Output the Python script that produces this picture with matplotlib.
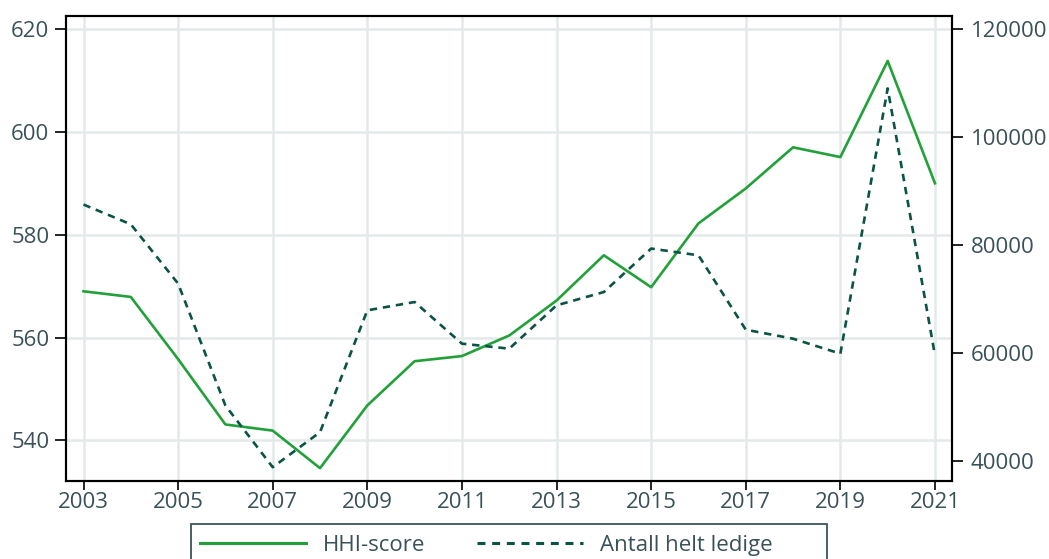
import matplotlib
matplotlib.use("Agg")
import matplotlib.pyplot as plt
from matplotlib.lines import Line2D
from matplotlib.patches import Rectangle

plt.rcParams['font.family'] = ['Open Sans', 'DejaVu Sans']

years = list(range(2003, 2022))
hhi_score = [569.0, 567.9, 555.8, 543.1, 541.9, 534.6, 546.8, 555.4, 556.4, 560.4,
             567.2, 576.0, 569.8, 582.2, 589.0, 597.0, 595.1, 613.8, 590.0]
helt_ledige = [87460, 83800, 72800, 50200, 38760, 45260, 67850, 69390, 61670, 60740,
               68770, 71240, 79300, 78050, 64260, 62590, 59810, 108990, 59490]
x_ticks = list(range(2003, 2022, 2))
left_ticks = [540, 560, 580, 600, 620]
right_ticks = [40000, 60000, 80000, 100000, 120000]
labels = ["HHI-score", "Antall helt ledige"]

green = '#22a03a'
dark = '#0b5345'
txt = '#3a5157'
fs = 16

W, H = 1049, 559
fig = plt.figure(figsize=(W/100, H/100), dpi=100)
ax = fig.add_axes([66/W, 1-480.5/H, (952-66)/W, (480.5-15.7)/H])
ax2 = ax.twinx()

ax.plot(years, hhi_score, color=green, lw=1.9, zorder=3)
ax2.plot(years, helt_ledige, color=dark, lw=1.9, linestyle=(0, (2.8, 2.2)), zorder=3)

ax.set_xlim(2002.63, 2021.36)
ax.set_ylim(532.2, 622.6)
ax2.set_ylim(36300, 122470)

ax.set_xticks(x_ticks)
ax.set_yticks(left_ticks)
ax2.set_yticks(right_ticks)

ax.grid(True, color='#e4e9e9', lw=1.8, zorder=0)
ax.set_axisbelow(True)

for a in (ax, ax2):
    for s in a.spines.values():
        s.set_linewidth(1.5)
        s.set_color('black')
    a.tick_params(colors='black', labelcolor=txt, labelsize=fs, width=1.2)

ax.tick_params(axis='y', length=8, pad=4)
ax.tick_params(axis='x', length=6.2, pad=1.8)
ax2.tick_params(axis='y', length=8, pad=5.5)

# legend frame drawn as a figure rectangle (extends below the image edge)
frame = Rectangle((190.6/W, 1-575/H), (827-190.6)/W, (575-524.3)/H,
                  transform=fig.transFigure, facecolor='white',
                  edgecolor='#3d5459', lw=1.3, zorder=1)
fig.patches.append(frame)

handles = [Line2D([], [], color=green, lw=2.2),
           Line2D([], [], color=dark, lw=2.2, linestyle=(0, (2.6, 2.2)))]
leg = fig.legend(handles, labels, loc='center left', ncol=2,
                 bbox_to_anchor=(200/W, 1-545.5/H),
                 fontsize=fs, frameon=False,
                 handlelength=4.77, handletextpad=0.77, columnspacing=2.3,
                 borderpad=0, borderaxespad=0)
for t in leg.get_texts():
    t.set_color(txt)

fig.savefig('out.png', dpi=100)
